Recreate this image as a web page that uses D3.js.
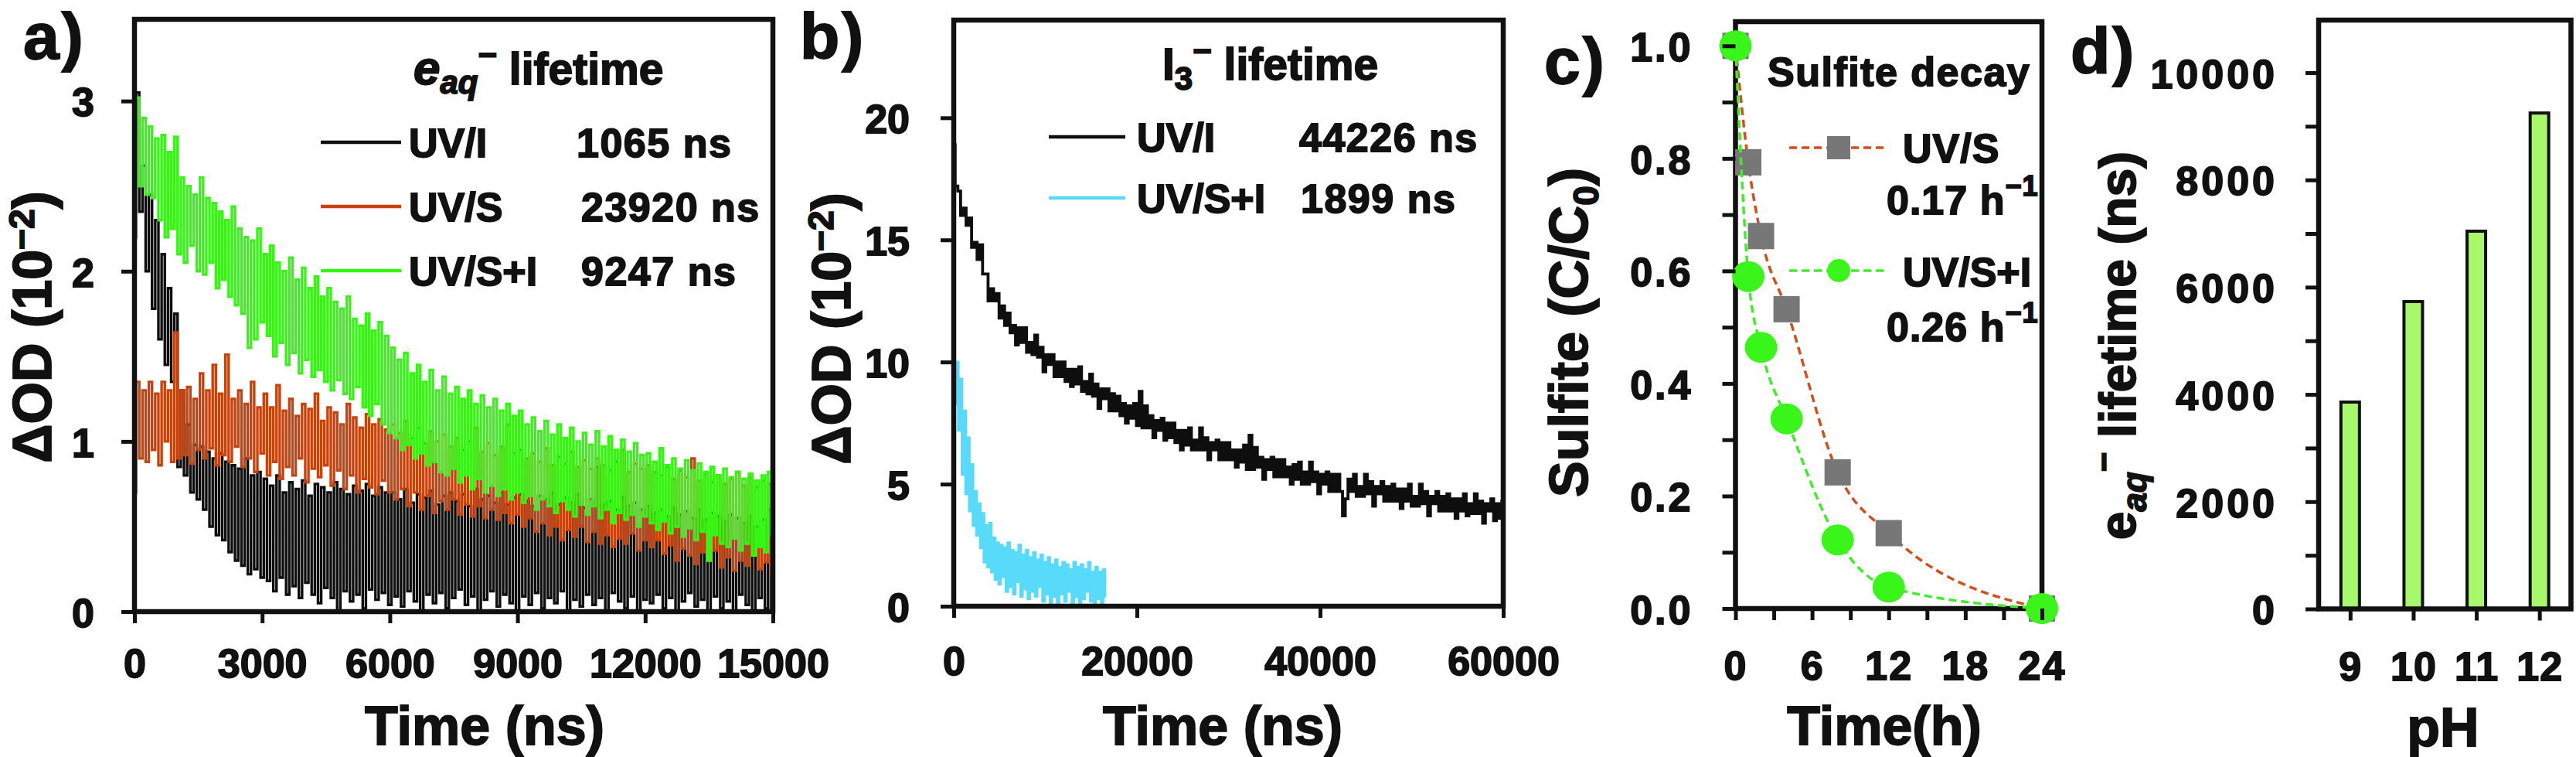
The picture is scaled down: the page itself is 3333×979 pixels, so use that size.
<!DOCTYPE html>
<html><head><meta charset="utf-8">
<script src="https://cdn.jsdelivr.net/npm/d3@7"></script>
<style>
body{margin:0;background:#fff}
text{font-family:"Liberation Sans",Arial,sans-serif;font-weight:bold;fill:#111;stroke:#111;stroke-width:1.8px}
</style></head>
<body><svg id="c" width="3333" height="979"></svg>
<script>
// ---------------- DATA ----------------
// Panel a: e_aq- decay traces, one sample every 75 ns (0..15000 ns)
const aStep = 75;
const aUVI = [
2.2,3.05,2.35,2.62,2.0,2.45,1.78,2.3,1.6,2.1,
1.45,1.9,1.35,1.75,0.85,1.3,0.8,1.1,0.7,0.98,
0.66,0.97,0.6,0.94,0.5,0.9,0.45,0.93,0.42,0.88,
0.35,0.86,0.3,0.84,0.27,0.9,0.22,0.8,0.25,0.82,
0.2,
0.78,0.18,0.74,0.12,0.8,0.2,0.7,0.1,0.76,0.15,0.72,0.08,0.77,0.17,0.68,0.1,0.75,0.05,0.73,0.14,
0.7,0.08,0.76,0.0,0.72,0.12,0.69,0.06,0.74,0.1,0.71,0.02,0.75,0.13,0.68,0.07,0.73,0.11,0.7,0.04,
0.7,0.09,0.66,0.03,0.72,0.12,0.64,0.06,0.69,0.0,0.67,0.1,0.71,0.05,0.63,0.11,0.68,0.02,0.7,0.08,
0.65,0.13,0.69,0.04,0.62,0.09,0.72,0.0,0.66,0.07,0.68,0.12,0.64,0.03,0.7,0.1,0.63,0.05,0.67,0.0,
0.69,0.09,0.65,0.04,0.62,0.11,0.68,0.02,0.66,0.08,0.7,0.05,0.63,0.12,0.67,0.0,0.64,0.07,0.69,0.03,
0.61,0.1,0.66,0.04,0.85,0.08,0.63,0.0,0.65,0.11,0.6,0.06,0.67,0.02,0.62,0.09,0.64,0.0,0.6,0.07,
0.62,0.05,0.58,0.1,0.6,0.02,0.56,0.08,0.61,0.0,0.57,0.06,0.59,0.11,0.55,0.03,0.6,0.07,0.54,0.0,
0.58,0.09,0.56,0.02,0.53,0.06,0.57,0.0,0.55,0.1,0.52,0.04,0.56,0.0,0.5,0.08,0.54,0.02,0.6,0.0
];
const aUVS = [
0.7,1.35,0.9,1.3,0.88,1.35,0.95,1.28,0.86,1.35,
1.0,1.3,0.88,1.64,0.9,1.3,0.92,1.32,0.87,1.25,
0.95,1.4,0.9,1.3,0.96,1.45,0.86,1.28,0.92,1.51,
0.88,1.25,0.97,1.3,0.85,1.22,0.9,1.35,0.82,1.2,
0.93,
1.28,0.8,1.2,0.88,1.33,0.78,1.18,0.85,1.25,0.8,1.15,0.9,1.22,0.76,1.19,0.84,1.28,0.79,1.12,0.86,
1.2,0.74,1.17,0.83,1.1,0.72,1.22,0.8,1.14,0.7,1.08,0.78,1.16,0.73,1.1,0.69,1.13,0.77,1.07,0.7,
1.1,0.66,1.05,0.72,1.12,0.62,1.02,0.7,1.08,0.6,0.99,0.68,1.06,0.58,1.0,0.65,1.04,0.6,0.97,0.66,
1.02,0.57,0.95,0.63,1.0,0.56,1.08,0.62,0.94,0.55,0.99,0.6,0.92,0.54,0.97,0.58,1.1,0.52,0.93,0.57,
0.95,0.5,0.9,0.55,0.93,0.47,0.88,0.52,0.96,0.45,0.86,0.5,0.91,0.42,0.87,0.48,0.94,0.44,0.85,0.5,
0.89,0.41,0.84,0.47,0.9,0.4,0.86,0.45,0.83,0.38,0.88,0.43,0.95,0.4,0.82,0.46,0.87,0.36,0.84,0.42,
0.86,0.38,0.82,0.42,0.8,0.34,0.85,0.39,0.78,0.3,0.83,0.37,0.79,0.33,0.9,0.28,0.77,0.35,0.81,0.3,
0.76,0.36,0.8,0.26,0.75,0.32,0.78,0.24,0.82,0.3,0.74,0.27,0.79,0.33,0.73,0.25,0.77,0.29,0.75,0.22
];
const aUVSI = [
2.2,3.02,2.5,2.9,2.45,2.85,2.43,2.78,2.3,2.8,
2.2,2.7,2.25,2.79,2.1,2.55,2.05,2.5,2.15,2.45,
2.0,2.55,1.98,2.43,2.05,2.4,1.9,2.35,1.95,2.3,
1.85,2.38,1.8,2.25,1.75,2.2,1.55,2.18,1.6,2.25,
1.7,
2.1,1.62,2.15,1.5,2.05,1.58,2.0,1.45,2.08,1.52,1.95,1.4,2.02,1.48,1.9,1.38,1.97,1.42,1.85,1.35,
1.9,1.3,1.82,1.36,1.78,1.28,1.85,1.25,1.72,1.32,1.68,1.2,1.75,1.15,1.65,1.22,1.7,1.1,1.62,1.05,
1.55,1.02,1.48,0.95,1.52,0.98,1.4,0.9,1.45,0.93,1.35,0.86,1.42,0.88,1.3,0.82,1.38,0.8,1.28,0.84,
1.32,0.76,1.25,0.8,1.3,0.72,1.22,0.78,1.27,0.7,1.2,0.74,1.25,0.68,1.18,0.72,1.22,0.66,1.15,0.7,
1.18,0.64,1.1,0.68,1.14,0.6,1.06,0.66,1.12,0.62,1.04,0.58,1.1,0.65,1.02,0.6,1.08,0.56,1.0,0.63,
1.05,0.57,0.98,0.62,1.06,0.55,0.97,0.6,1.03,0.52,0.95,0.58,1.01,0.54,0.94,0.57,0.99,0.5,0.92,0.56,
0.93,0.52,0.88,0.48,0.96,0.53,0.86,0.46,0.9,0.5,0.84,0.44,0.89,0.49,0.83,0.42,0.87,0.47,0.82,0.3,
0.85,0.45,0.8,0.4,0.84,0.38,0.79,0.43,0.82,0.36,0.78,0.4,0.81,0.33,0.77,0.38,0.8,0.35,0.82,0.45
];
const aLegend = ["UV/I","UV/S","UV/S+I"];
const aLifetimes = ["1065 ns","23920 ns","9247 ns"];
const aXTicks = [0,3000,6000,9000,12000,15000];
const aYTicks = [0,1,2,3];

// Panel b: I3- decay traces
const bStep = 300;   // UV/I, one sample every 300 ns
const bUVI = [
18.9,17.2,17.0,16.0,16.3,15.6,15.9,14.7,14.9,14.2,
14.8,13.6,13.6,12.5,13.0,12.5,12.8,11.8,12.3,11.5,
12.0,11.2,11.5,10.7,11.4,10.8,11.4,10.4,10.8,10.3,
11.1,10.2,10.6,9.6,10.3,9.9,10.3,9.4,10.0,9.4,
10.0,9.2,9.7,9.0,9.7,9.1,9.8,8.8,9.2,8.7,
9.5,8.6,9.1,8.1,8.9,8.5,8.9,8.0,8.7,8.0,
8.6,7.8,8.3,7.5,8.2,7.7,8.3,7.4,8.8,7.3,
8.2,7.3,7.8,6.9,7.6,7.2,7.7,6.8,7.5,6.9,
7.5,6.7,7.2,6.4,7.2,6.6,7.3,6.4,6.8,6.4,
7.3,6.4,6.9,6.0,6.7,6.4,6.8,6.0,6.7,6.0,
6.7,6.0,6.4,5.7,6.4,5.9,6.6,5.6,7.0,5.6,
6.5,5.7,6.1,5.2,6.0,5.6,6.1,5.3,6.0,5.3,
6.0,5.3,5.7,5.0,5.8,5.2,5.9,5.0,5.5,5.0,
5.9,5.1,5.5,4.6,5.4,5.0,5.5,4.7,5.4,4.7,
5.4,4.7,3.7,4.4,5.2,4.7,5.4,4.5,4.9,4.5,
5.4,4.6,5.1,4.1,4.9,4.6,5.1,4.3,4.9,4.3,
5.0,4.3,4.8,4.0,4.8,4.3,5.0,4.1,4.5,4.1,
5.0,4.2,4.7,3.7,4.5,4.2,4.7,3.9,4.5,3.9,
4.6,3.9,4.4,3.6,4.4,3.9,4.6,3.7,4.2,3.8,
4.6,3.8,4.3,3.4,4.2,3.9,4.4,3.5,4.2,3.6,
4.3
];
const bStepSI = 200; // UV/S+I, one sample every 200 ns
const bUVSI = [
10.8,8.3,10.0,7.2,9.3,5.4,8.0,4.6,6.9,3.9,
5.8,3.3,4.7,2.9,4.2,2.4,3.8,1.8,3.3,1.6,
3.4,1.4,2.8,1.1,2.6,0.9,2.5,1.2,2.4,0.6,
2.6,0.8,2.3,0.5,2.2,1.0,2.5,0.4,2.1,0.7,
2.3,0.3,2.0,0.6,2.2,0.4,1.9,0.8,2.1,0.2,
1.8,0.5,2.0,0.1,1.7,0.4,1.9,0.0,1.6,0.5,
1.8,0.2,1.7,0.6,1.5,0.1,1.8,0.4,1.6,0.0,
1.7,0.3,1.5,0.6,1.8,0.2,1.4,0.0,1.6,0.3,
1.4,0.1,1.5,0.4
];
const bLegend = ["UV/I","UV/S+I"];
const bLifetimes = ["44226 ns","1899 ns"];
const bXTicks = [0,20000,40000,60000];
const bYTicks = [0,5,10,15,20];

// Panel c: sulfite decay
const cTimes = [0,1,2,4,8,12,24];
const cUVS  = [1.0,0.793,0.662,0.532,0.242,0.134,0.0];
const cUVSI = [1.0,0.59,0.464,0.337,0.122,0.038,0.0];
const cRates = ["0.17 h","0.26 h"];
const cXTicks = [0,3,6,9,12,15,18,21,24];
const cYTicks = [0,0.1,0.2,0.3,0.4,0.5,0.6,0.7,0.8,0.9,1.0];

// Panel d: e_aq- lifetime vs pH
const dPH = ["9","10","11","12"];
const dLifetime = [3857,5732,7044,9247];
const dYTicks = [0,1000,2000,3000,4000,5000,6000,7000,8000,9000,10000];

// ---------------- DRAWING ----------------
const svg = d3.select("#c");
const INK = "#111";
const C_BLACK="#0e0e0e", C_ORANGE="#c8420c", C_GREEN="#36f515", C_CYAN="#58dbfa";

function frame(x0,x1,y0,y1){
  svg.append("rect").attr("x",x0).attr("y",y0).attr("width",x1-x0).attr("height",y1-y0)
    .attr("fill","none").attr("stroke",INK).attr("stroke-width",6.5);
}
function styleAxis(g, ls){
  g.attr("font-family",null).attr("font-size",null);
  g.select(".domain").remove();
  g.selectAll(".tick line").attr("stroke",INK).attr("stroke-width",5);
  g.selectAll(".tick text").attr("font-size",52).attr("fill",INK).style("letter-spacing",ls+"px");
}
function yAxis(scale,x,ticks,fmt,pad,ls){
  const g=svg.append("g").attr("transform",`translate(${x},0)`)
    .call(d3.axisLeft(scale).tickValues(ticks).tickFormat(fmt).tickSize(17).tickPadding(pad));
  styleAxis(g,ls);
  g.selectAll(".tick text").attr("dy","0.37em");
}
function xAxis(scale,y,ticks,fmt,pad,ls){
  const ax=d3.axisBottom(scale).tickSize(15).tickPadding(pad).tickFormat(fmt);
  if(ticks) ax.tickValues(ticks);
  const g=svg.append("g").attr("transform",`translate(0,${y})`).call(ax);
  styleAxis(g,ls);
}
function label(x,y,txt,size,opts={}){
  const t=svg.append("text").attr("x",x).attr("y",y).attr("font-size",size).text(txt);
  if(opts.anchor) t.attr("text-anchor",opts.anchor);
  if(opts.ls!=null) t.style("letter-spacing",opts.ls+"px");
  return t;
}
function trace(xs,ys,data,step,color,w){
  const line=d3.line().x((d,i)=>xs(i*step)).y(d=>ys(d)).curve(d3.curveStep);
  svg.append("path").datum(data).attr("d",line).attr("fill","none")
    .attr("stroke",color).attr("stroke-width",w).attr("stroke-linejoin","miter");
}
function rich(t,parts){
  parts.forEach(p=>{
    const s=t.append("tspan").text(p.t);
    if(p.dy) s.attr("dy",p.dy);
    if(p.fs) s.attr("font-size",p.fs);
    if(p.it) s.attr("font-style","italic");
  });
  return t;
}
function yTitle(x,y,parts,size){
  const t=svg.append("text").attr("transform",`translate(${x},${y}) rotate(-90)`)
    .attr("text-anchor","middle").attr("font-size",size);
  return rich(t,parts);
}
function richText(x,y,parts,size){
  const t=svg.append("text").attr("x",x).attr("y",y).attr("font-size",size);
  return rich(t,parts);
}

// ===== Panel a =====
{
  const x=d3.scaleLinear().domain([0,15000]).range([174,1000]);
  const y=d3.scaleLinear().domain([0,3.48]).range([791,25]);
  trace(x,y,aUVI,aStep,C_BLACK,3.4);
  trace(x,y,aUVS,aStep,C_ORANGE,3.4);
  trace(x,y,aUVSI,aStep,C_GREEN,3.4);
  frame(174,1000,25,791);
  yAxis(y,174,aYTicks,d3.format("d"),35,0);
  xAxis(x,791,aXTicks,d3.format("d"),33,0);
  label(30,76,"a)",84,{ls:3});
  richText(535,109,[{t:"e",it:true,fs:62},{t:"aq",it:true,fs:42,dy:12},{t:"\u2212",fs:42,dy:-36},{t:" lifetime",fs:57,dy:24}],57);
  const rows=[184,267,350], cols=[C_BLACK,C_ORANGE,C_GREEN], vx=[746,752,752];
  rows.forEach((ry,i)=>{
    svg.append("line").attr("x1",415).attr("x2",519).attr("y1",ry).attr("y2",ry).attr("stroke",cols[i]).attr("stroke-width",4.5);
    label(529,ry+19,aLegend[i],52);
    label(vx[i],ry+19,aLifetimes[i],52,{ls:1.5});
  });
  yTitle(66,423,[{t:"\u0394OD (10"},{t:"\u22122",fs:46,dy:-22},{t:")",dy:22}],70);
  label(627,963,"Time (ns)",70,{anchor:"middle"});
}

// ===== Panel b =====
{
  const x=d3.scaleLinear().domain([0,60000]).range([1234,1945]);
  const y=d3.scaleLinear().domain([0,24]).range([784,26]);
  trace(x,y,bUVI,bStep,C_BLACK,3.8);
  trace(x,y,bUVSI,bStepSI,C_CYAN,3.4);
  frame(1234,1945,26,784);
  yAxis(y,1234,bYTicks,d3.format("d"),40,0);
  xAxis(x,784,bXTicks,d3.format("d"),37,0);
  label(1035,76,"b)",84,{ls:3});
  richText(1504,103,[{t:"I",fs:57},{t:"3",fs:42,dy:13},{t:"\u2212",fs:42,dy:-36},{t:" lifetime",fs:57,dy:23}],57);
  const rows=[177,256], cols=[C_BLACK,C_CYAN], vx=[1681,1683];
  rows.forEach((ry,i)=>{
    svg.append("line").attr("x1",1357).attr("x2",1456).attr("y1",ry).attr("y2",ry).attr("stroke",cols[i]).attr("stroke-width",4.5);
    label(1471,ry+19,bLegend[i],52);
    label(vx[i],ry+19,bLifetimes[i],52,{ls:1.5});
  });
  yTitle(1100,425,[{t:"\u0394OD (10"},{t:"\u22122",fs:46,dy:-22},{t:")",dy:22}],70);
  label(1582,963,"Time (ns)",70,{anchor:"middle"});
}

// ===== Panel c =====
{
  const x=d3.scaleLinear().domain([0,24]).range([2245.5,2642]);
  const y=d3.scaleLinear().domain([0,1.043]).range([787,28]);
  const pts=(vals)=>cTimes.map((t,i)=>[t,vals[i]]);
  const line=d3.line().x(d=>x(d[0])).y(d=>y(d[1])).curve(d3.curveMonotoneX);
  frame(2245.5,2642,28,787);
  svg.append("path").datum(pts(cUVS)).attr("d",line).attr("fill","none").attr("stroke","#d24f1c")
    .attr("stroke-width",3.5).attr("stroke-dasharray","10,6");
  svg.selectAll(".sq").data(pts(cUVS)).enter().append("rect")
    .attr("x",d=>x(d[0])-17).attr("y",d=>y(d[1])-17).attr("width",34).attr("height",34).attr("fill","#777");
  svg.append("path").datum(pts(cUVSI)).attr("d",line).attr("fill","none").attr("stroke","#3fee28")
    .attr("stroke-width",3.5).attr("stroke-dasharray","10,6");
  svg.selectAll(".ci").data(pts(cUVSI)).enter().append("ellipse")
    .attr("cx",d=>x(d[0])).attr("cy",d=>y(d[1])).attr("rx",21).attr("ry",20).attr("fill","#3af51a");
  yAxis(y,2245.5,cYTicks,d=>Math.round(d*10)%2===0?d3.format(".1f")(d):"",38,3);
  xAxis(x,787,cXTicks,d=>d%6===0?d:"",40,2);
  label(1998,108,"c)",84,{ls:3});
  label(2287,111,"Sulfite decay",52,{ls:1.5});
  // legend
  svg.append("line").attr("x1",2315).attr("x2",2443).attr("y1",191).attr("y2",191).attr("stroke","#d24f1c").attr("stroke-width",3.5).attr("stroke-dasharray","10,6");
  svg.append("rect").attr("x",2379-15).attr("y",191-15).attr("width",30).attr("height",30).attr("fill","#777");
  svg.append("line").attr("x1",2315).attr("x2",2443).attr("y1",350).attr("y2",350).attr("stroke","#3fee28").attr("stroke-width",3.5).attr("stroke-dasharray","10,6");
  svg.append("ellipse").attr("cx",2379).attr("cy",350).attr("rx",15).attr("ry",15).attr("fill","#3af51a");
  label(2462,210,"UV/S",52,{ls:1});
  richText(2441,277,[{t:cRates[0]},{t:"\u22121",fs:36,dy:-24}],52).style("letter-spacing","1px");
  label(2462,370,"UV/S+I",52,{ls:0});
  richText(2441,441,[{t:cRates[1]},{t:"\u22121",fs:36,dy:-24}],52).style("letter-spacing","1px");
  yTitle(2054,430,[{t:"Sulfite (C/C"},{t:"0",fs:46,dy:14},{t:")",dy:-14}],70);
  label(2438,963,"Time(h)",70,{anchor:"middle"});
}

// ===== Panel d =====
{
  const x=d3.scalePoint().domain(dPH).range([3000,3326.5]).padding(0.5);
  const y=d3.scaleLinear().domain([0,11000]).range([787.5,24.6]);
  const bw=24;
  svg.selectAll(".bar").data(dLifetime).enter().append("rect")
    .attr("x",(d,i)=>x(dPH[i])-bw/2).attr("y",d=>y(d)).attr("width",bw).attr("height",d=>y(0)-y(d))
    .attr("fill","#a7f96b").attr("stroke",INK).attr("stroke-width",4);
  frame(3000,3326.5,26,787.5);
  yAxis(y,3000,dYTicks,d=>d%2000===0?d:"",36,4);
  xAxis(x,787.5,null,d=>d,41,1);
  label(2679,95,"d)",84,{ls:3});
  yTitle(2763,447,[{t:"e"},{t:"aq",it:true,fs:44,dy:14},{t:"\u2212",fs:44,dy:-40},{t:" lifetime (ns)",dy:26}],66);
  label(3161,965,"pH",70,{anchor:"middle"});
}
</script>
</body></html>
